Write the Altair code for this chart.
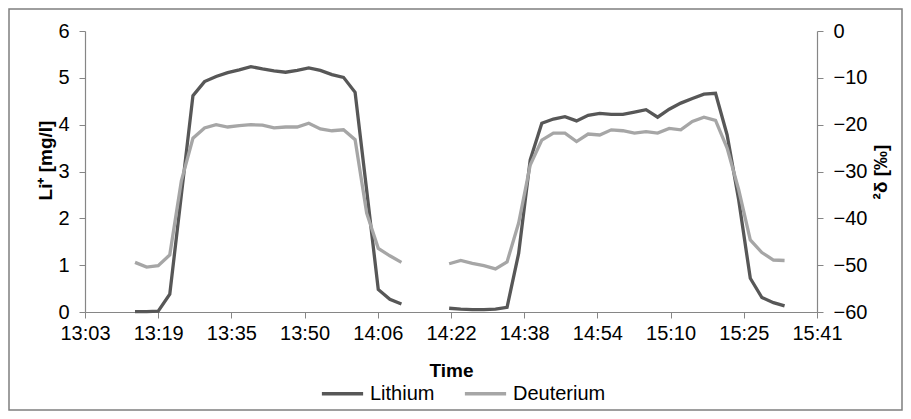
import altair as alt
import pandas as pd

# minutes after 13:03
p1_t = [10.8, 13.3, 15.8, 18.3, 20.8, 23.3, 25.8, 28.3, 30.8, 33.3, 35.8, 38.3,
        40.8, 43.3, 45.8, 48.3, 50.8, 53.3, 55.8, 58.3, 60.8, 63.3, 65.8, 68.3]
p1_li = [0.01, 0.01, 0.02, 0.38, 2.5, 4.62, 4.92, 5.03, 5.11, 5.17, 5.24, 5.19,
         5.15, 5.12, 5.16, 5.21, 5.16, 5.07, 5.01, 4.69, 2.6, 0.48, 0.27, 0.17]
p1_d = [-49.4, -50.4, -50.1, -47.8, -32.0, -22.9, -20.7, -20.0, -20.5, -20.2, -20.0, -20.1,
        -20.7, -20.5, -20.5, -19.7, -20.9, -21.3, -21.1, -23.2, -38.9, -46.4, -48.0, -49.4]

p2_t = [78.6, 81.1, 83.6, 86.1, 88.6, 91.1, 93.6, 96.1, 98.6, 101.1, 103.6, 106.1,
        108.6, 111.1, 113.6, 116.1, 118.6, 121.1, 123.6, 126.1, 128.6, 131.1, 133.6,
        136.1, 138.6, 141.1, 143.6, 146.1, 148.6, 151.0]
p2_li = [0.08, 0.06, 0.05, 0.05, 0.06, 0.10, 1.25, 3.25, 4.03, 4.12, 4.17, 4.08,
         4.20, 4.24, 4.22, 4.22, 4.27, 4.32, 4.16, 4.33, 4.46, 4.56, 4.65,
         4.67, 3.78, 2.39, 0.72, 0.31, 0.20, 0.13]
p2_d = [-49.7, -49.0, -49.6, -50.1, -50.8, -49.3, -41.0, -28.6, -23.3, -21.8, -21.8, -23.6,
        -22.0, -22.2, -21.1, -21.3, -21.8, -21.5, -21.8, -20.8, -21.1, -19.3, -18.4,
        -19.1, -25.0, -33.9, -44.6, -47.3, -48.9, -49.0]

x_labels = ["13:03", "13:19", "13:35", "13:50", "14:06", "14:22",
            "14:38", "14:54", "15:10", "15:25", "15:41"]
x_step = 15.8
x_ticks = [i * x_step for i in range(len(x_labels))]
li_ticks = [0, 1, 2, 3, 4, 5, 6]
d_ticks = [-60, -50, -40, -30, -20, -10, 0]

series = ["Lithium", "Deuterium"]
colors = ["#575757", "#a6a6a6"]

li_df = pd.DataFrame({
    "t": p1_t + p2_t,
    "v": p1_li + p2_li,
    "pulse": [1] * len(p1_t) + [2] * len(p2_t),
    "series": "Lithium",
})
d_df = pd.DataFrame({
    "t": p1_t + p2_t,
    "v": p1_d + p2_d,
    "pulse": [1] * len(p1_t) + [2] * len(p2_t),
    "series": "Deuterium",
})

W, H = 732, 281
FONT = "Liberation Sans"

label_js = "[" + ",".join('"%s"' % s for s in x_labels) + "]"

xenc = alt.X("t:Q",
             scale=alt.Scale(domain=[0, x_ticks[-1]], nice=False, zero=False),
             axis=alt.Axis(values=x_ticks, title="Time", grid=False,
                           labelExpr=label_js + "[round(datum.value/%s)]" % x_step,
                           labelFlush=False, labelOverlap=False, labelBound=False,
                           labelPadding=5, titleX=W / 2, titleY=58,
                           titleBaseline="middle", titleAlign="center"))

color = alt.Color("series:N",
                  scale=alt.Scale(domain=series, range=colors),
                  legend=alt.Legend(title=None, orient="none", direction="horizontal",
                                    legendX=235, legendY=340,
                                    symbolType="stroke", symbolSize=1700,
                                    symbolStrokeWidth=3.5, labelOffset=5,
                                    columnPadding=22, labelFontSize=20,
                                    labelFont=FONT, labelColor="#000"))

border = alt.Chart(alt.Data(values=[{}])).mark_rect(
    fill=None, stroke="#7f7f7f", strokeWidth=1.5
).encode(x=alt.value(-76), x2=alt.value(817), y=alt.value(-22), y2=alt.value(379))

li_line = alt.Chart(li_df).mark_line(strokeWidth=3.3).encode(
    x=xenc,
    y=alt.Y("v:Q", scale=alt.Scale(domain=[0, 6], nice=False),
            axis=alt.Axis(values=li_ticks, title="Li⁺ [mg/l]", grid=False,
                          labelPadding=10, titleX=-40, titleY=129,
                          titleBaseline="middle", titleAlign="center")),
    color=color,
    detail="pulse:N",
)

d_line = alt.Chart(d_df).mark_line(strokeWidth=3.3).encode(
    x=xenc,
    y=alt.Y("v:Q", scale=alt.Scale(domain=[-60, 0], nice=False, zero=False),
            axis=alt.Axis(values=d_ticks, title="²δ [‰]", orient="right", grid=False,
                          labelPadding=10, titleAngle=270, titleX=63, titleY=H / 2,
                          titleBaseline="middle", titleAlign="center")),
    color=color,
    detail="pulse:N",
)

chart = alt.layer(border, li_line, d_line).resolve_scale(y="independent").properties(
    width=W, height=H,
    autosize=alt.AutoSizeParams(type="none"),
    padding={"left": 77, "top": 23, "right": 86, "bottom": 99},
    background="white",
).configure_view(stroke=None).configure_axis(
    labelFont=FONT, labelFontSize=20, labelColor="#000",
    titleFont=FONT, titleFontSize=19, titleFontWeight="bold", titleColor="#000",
    domainColor="#868686", tickColor="#868686", tickSize=6, domainWidth=1.2,
)

chart.save("out.html", embed_options={"renderer": "svg", "actions": False})
